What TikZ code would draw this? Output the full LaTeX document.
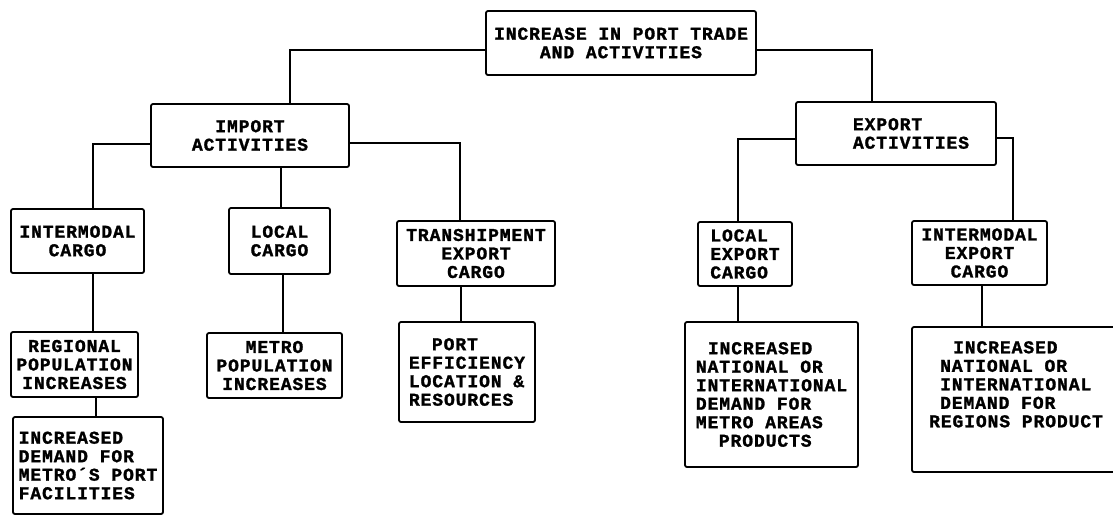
\documentclass[tikz,border=0pt]{standalone}
\usepackage{fontspec}
\newfontfamily\typefont{Liberation Mono}[LetterSpace=5, BoldFeatures={FakeBold=1.5}]
\usepackage{tikz}

\tikzset{
  box/.style={draw, line width=1.8pt, rounded corners=2pt, inner sep=3pt, align=center,
    font=\typefont\bfseries\fontsize{18}{18.5}\selectfont},
  link/.style={line width=1.8pt}
}

\begin{document}
\begin{tikzpicture}[x=1pt,y=-1pt]
    \useasboundingbox (0,0) rectangle (1113,515);
    % top
    \node[box, minimum width=270pt, minimum height=64pt] (trade) at (621,43) {INCREASE IN PORT TRADE\\AND ACTIVITIES};
    
    % import side
    \node[box, minimum width=198pt, minimum height=63pt] (import) at (250,135.5) {IMPORT\\ACTIVITIES};
    \node[box, minimum width=133pt, minimum height=64pt] (icargo) at (77.5,241) {INTERMODAL\\CARGO};
    \node[box, minimum width=101pt, minimum height=66pt] (lcargo) at (279.5,241) {LOCAL\\CARGO};
    \node[box, minimum width=158pt, minimum height=65pt] (tcargo) at (476,253.5) {TRANSHIPMENT\\EXPORT\\CARGO};
    \node[box, minimum width=127pt, minimum height=65pt] (regional) at (74.5,364.5) {REGIONAL\\POPULATION\\INCREASES};
    \node[box, minimum width=135pt, minimum height=65pt] (metropop) at (274.5,365.5) {METRO\\POPULATION\\INCREASES};
    \node[box, minimum width=136pt, minimum height=100pt, align=left] (porteff) at (467,372) {\hspace*{23pt}PORT\\EFFICIENCY\\LOCATION \&\\RESOURCES};
    \node[box, minimum width=150pt, minimum height=97pt, align=left] (demand) at (88,465.5) {INCREASED\\DEMAND FOR\\METRO´S PORT\\FACILITIES};
    
    % export side
    \node[box, minimum width=200pt, minimum height=63pt, align=left] (export) at (896,133.5) {\hspace*{30pt}EXPORT\\\hspace*{30pt}ACTIVITIES};
    \node[box, minimum width=94pt, minimum height=64pt, align=left] (lexport) at (745,254) {LOCAL\\EXPORT\\CARGO};
    \node[box, minimum width=135pt, minimum height=64pt] (iexport) at (979.5,253) {INTERMODAL\\EXPORT\\CARGO};
    \node[box, minimum width=173pt, minimum height=145pt, align=left] (metrodemand) at (771.5,394.5) {\hspace*{12pt}INCREASED\\NATIONAL OR\\INTERNATIONAL\\DEMAND FOR\\METRO AREAS\\\hspace*{23pt}PRODUCTS};
    \node[box, minimum width=208pt, minimum height=145pt, align=left] (regiondemand) at (1016,399.5) {\hspace*{24pt}INCREASED\\\hspace*{11pt}NATIONAL OR\\\hspace*{11pt}INTERNATIONAL\\\hspace*{11pt}DEMAND FOR\\REGIONS PRODUCT\hspace*{11pt}\\[12pt]\mbox{}};
    
    % links
    \draw[link] ([yshift=-7pt]trade.west) -| ([xshift=40pt]import.north);
    \draw[link] ([yshift=-7pt]trade.east) -| ([xshift=-24pt]export.north);
    \draw[link] ([yshift=-8.5pt]import.west) -| ([xshift=15.5pt]icargo.north);
    \draw[link] ([xshift=31pt]import.south) -- ([xshift=31pt]import.south |- lcargo.north);
    \draw[link] ([yshift=-7.5pt]import.east) -| ([xshift=-16pt]tcargo.north);
    \draw[link] ([yshift=-5.5pt]export.west) -| ([xshift=-7pt]lexport.north);
    \draw[link] ([yshift=-4.5pt]export.east) -| ([xshift=33.5pt]iexport.north);
    \draw[link] ([xshift=15.5pt]icargo.south) -- ([xshift=15.5pt]icargo.south |- regional.north);
    \draw[link] ([xshift=21.5pt]regional.south) -- ([xshift=21.5pt]regional.south |- demand.north);
    \draw[link] ([xshift=3.5pt]lcargo.south) -- ([xshift=3.5pt]lcargo.south |- metropop.north);
    \draw[link] ([xshift=-15pt]tcargo.south) -- ([xshift=-15pt]tcargo.south |- porteff.north);
    \draw[link] ([xshift=-7pt]lexport.south) -- ([xshift=-7pt]lexport.south |- metrodemand.north);
    \draw[link] ([xshift=2.5pt]iexport.south) -- ([xshift=2.5pt]iexport.south |- regiondemand.north);
\end{tikzpicture}
\end{document}
